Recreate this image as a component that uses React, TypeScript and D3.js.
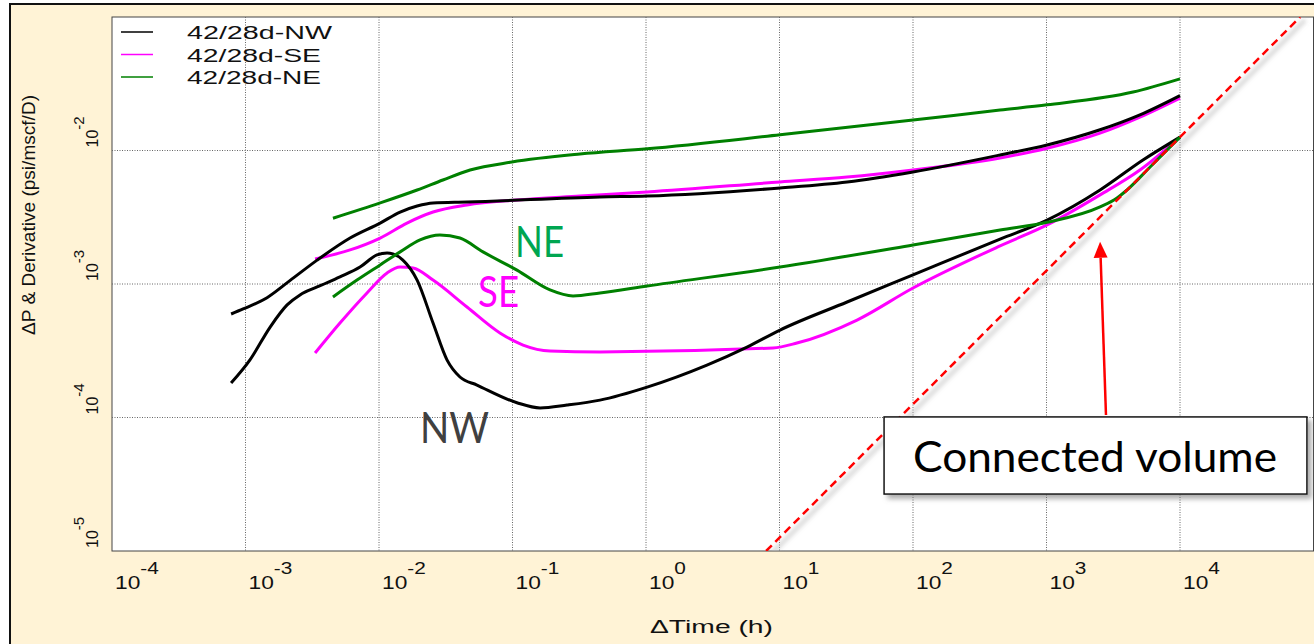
import React, { useRef, useEffect } from 'react';
import * as d3 from 'd3';

// decades shown on the axes
const xExponents = [-4, -3, -2, -1, 0, 1, 2, 3, 4];
const yExponents = [-5, -4, -3, -2];

const legendLabels = ['42/28d-NW', '42/28d-SE', '42/28d-NE'];
const legendColors = ['#000000', '#ff00ff', '#008000'];

// [time (h), value (psi/mscf/D)]
const nwPressure: [number, number][] = [
  [7.8e-4, 5.96e-4], [9.6e-4, 6.5e-4], [1.45e-3, 7.9e-4], [2.15e-3, 1.06e-3], [3.44e-3, 1.51e-3],
  [6.07e-3, 2.21e-3], [1.02e-2, 2.86e-3], [1.44e-2, 3.46e-3], [1.93e-2, 3.84e-3], [2.54e-2, 4.05e-3],
  [4.56e-2, 4.11e-3], [0.452, 4.49e-3], [1.02, 4.56e-3], [10.1, 5.24e-3], [32.1, 5.81e-3],
  [100, 6.9e-3], [449, 9.25e-3], [1010, 1.1e-2], [2520, 1.43e-2], [5010, 1.85e-2], [1e4, 2.58e-2],
];
const nwDerivative: [number, number][] = [
  [7.8e-4, 1.81e-4], [1.08e-3, 2.7e-4], [1.53e-3, 4.76e-4], [2.05e-3, 6.97e-4], [2.56e-3, 8.28e-4],
  [3.44e-3, 9.5e-4], [5.1e-3, 1.13e-3], [7.21e-3, 1.34e-3], [9.66e-3, 1.65e-3], [1.15e-2, 1.71e-3],
  [1.27e-2, 1.68e-3], [1.51e-2, 1.51e-3], [1.93e-2, 1.07e-3], [2.54e-2, 5.1e-4], [3.23e-2, 2.7e-4],
  [4.04e-2, 2.01e-4], [5.42e-2, 1.75e-4], [0.108, 1.29e-4], [0.161, 1.18e-4], [0.256, 1.24e-4],
  [0.452, 1.35e-4], [1.02, 1.69e-4], [2.86, 2.47e-4], [5.71, 3.37e-4],
  [10.1, 4.52e-4], [32.1, 7.33e-4], [100, 1.17e-3], [449, 2.17e-3], [1010, 3.01e-3],
  [2520, 5.06e-3], [5280, 8.49e-3], [1e4, 1.26e-2],
];
const sePressure: [number, number][] = [
  [3.32e-3, 1.54e-3], [6.07e-3, 1.8e-3], [1.02e-2, 2.21e-3], [1.62e-2, 2.86e-3], [2.54e-2, 3.46e-3],
  [4.56e-2, 3.91e-3], [0.108, 4.26e-3], [0.32, 4.56e-3], [1.02, 4.89e-3], [10.1, 5.81e-3],
  [32.1, 6.32e-3], [100, 7.14e-3], [449, 8.79e-3], [1010, 1.04e-2], [2520, 1.35e-2],
  [5010, 1.78e-2], [1e4, 2.47e-2],
];
const seDerivative: [number, number][] = [
  [3.32e-3, 3.04e-4], [5.1e-3, 5.1e-4], [8.13e-3, 8.57e-4], [1.15e-2, 1.21e-3], [1.44e-2, 1.34e-3],
  [1.8e-2, 1.32e-3], [2.54e-2, 1.07e-3], [4.56e-2, 6.73e-4], [8.05e-2, 4.3e-4], [0.12, 3.49e-4],
  [0.191, 3.15e-4], [0.452, 3.1e-4], [8.94, 3.32e-4], [13.5, 3.61e-4], [38.1, 5.37e-4],
  [100, 9.33e-4], [449, 1.93e-3], [1010, 2.77e-3], [2520, 4.65e-3], [5010, 7.14e-3], [1e4, 1.26e-2],
];
const nePressure: [number, number][] = [
  [4.52e-3, 3.11e-3], [1.02e-2, 4.05e-3], [1.93e-2, 5.06e-3], [3.01e-2, 6.01e-3], [4.81e-2, 7.14e-3],
  [9.9e-2, 8.2e-3], [0.32, 9.41e-3], [1.02, 1.03e-2], [10.1, 1.31e-2], [100, 1.69e-2],
  [449, 2.01e-2], [1010, 2.2e-2], [4450, 2.74e-2], [1e4, 3.44e-2],
];
const neDerivative: [number, number][] = [
  [4.52e-3, 8.0e-4], [6.84e-3, 1.07e-3], [1.02e-2, 1.39e-3], [1.44e-2, 1.74e-3], [2.03e-2, 2.14e-3],
  [2.86e-2, 2.33e-3], [4.04e-2, 2.21e-3], [6.01e-2, 1.74e-3], [0.108, 1.27e-3], [0.191, 9.02e-4],
  [0.284, 8.13e-4], [0.452, 8.57e-4], [1.02, 9.66e-4], [10.1, 1.34e-3], [100, 1.96e-3],
  [449, 2.54e-3], [1010, 2.9e-3], [2520, 3.78e-3], [3375, 4.41e-3], [4010, 5.06e-3],
  [6000, 7.56e-3], [1e4, 1.26e-2],
];

// unit-slope line (connected volume)
const unitSlope: [number, number][] = [[7.94, 1e-5], [79400, 0.1]];

// annotations, in data units
const wellLabels = [
  { text: 'NE', t: 0.1045, v: 1.59e-3, color: '#00a651', len: 49 },
  { text: 'SE', t: 0.0552, v: 6.73e-4, color: '#ff00ff', len: 41 },
  { text: 'NW', t: 0.0203, v: 6.44e-5, color: '#404040', len: 69 },
];
const boxCorners: [number, number][] = [[60.7, 1.01e-4], [89300, 2.67e-5]];
const arrowFrom: [number, number] = [2790, 1.045e-4];
const arrowTo: [number, number] = [2520, 2.07e-3];

export default function App() {
  const ref = useRef<SVGSVGElement>(null);

  useEffect(() => {
    const svg = d3.select(ref.current);
    svg.selectAll('*').remove();

    const x = d3.scaleLog().domain([1e-4, 1e5]).range([112, 1313.5]);
    const y = d3.scaleLog().domain([1e-5, 1e-1]).range([551, 17]);

    const defs = svg.append('defs');
    defs.append('clipPath').attr('id', 'plotclip')
      .append('rect').attr('x', 112).attr('y', 17).attr('width', 1201.5).attr('height', 534);
    const sh = defs.append('filter').attr('id', 'shadow')
      .attr('x', '-20%').attr('y', '-20%').attr('width', '140%').attr('height', '160%');
    sh.append('feDropShadow').attr('dx', 4).attr('dy', 4).attr('stdDeviation', 2.5)
      .attr('flood-color', '#777').attr('flood-opacity', 0.6);
    defs.append('filter').attr('id', 'blur')
      .append('feGaussianBlur').attr('stdDeviation', 2);

    svg.append('rect').attr('width', 1314).attr('height', 644).attr('fill', '#fff');
    svg.append('rect').attr('x', 10).attr('y', 4).attr('width', 1330).attr('height', 660)
      .attr('fill', '#fff3d6').attr('stroke', '#111').attr('stroke-width', 2);

    // plot area
    svg.append('rect').attr('x', 112).attr('y', 17).attr('width', 1201.5).attr('height', 534)
      .attr('fill', '#fff').attr('stroke', '#444').attr('stroke-width', 1);

    const grid = svg.append('g').attr('stroke', '#666').attr('stroke-width', 1)
      .attr('stroke-dasharray', '1,1.5');
    grid.selectAll('line.v').data(xExponents.slice(1)).join('line')
      .attr('x1', d => x(10 ** d)).attr('x2', d => x(10 ** d))
      .attr('y1', 17).attr('y2', 551);
    grid.selectAll('line.h').data(yExponents.slice(1)).join('line')
      .attr('x1', 112).attr('x2', 1313.5)
      .attr('y1', d => y(10 ** d)).attr('y2', d => y(10 ** d));

    // x tick labels
    const xl = svg.append('g').attr('font-family', '"Liberation Sans", Arial, sans-serif').attr('fill', '#111');
    xExponents.forEach(e => {
      const g = xl.append('g').attr('transform', `translate(${x(10 ** e) + 3},589) scale(1.3,1)`);
      const t = g.append('text').attr('font-size', 17.5);
      t.append('tspan').text('10');
      t.append('tspan').attr('dy', -15).attr('font-size', 16).text(String(e));
    });

    // y tick labels
    yExponents.forEach(e => {
      const g = xl.append('g').attr('transform', `translate(98,${y(10 ** e) - 3}) rotate(-90)`);
      const t = g.append('text').attr('font-size', 16);
      t.append('tspan').text('10');
      t.append('tspan').attr('dy', -14).attr('font-size', 15).text(String(e));
    });

    // axis titles
    xl.append('text').attr('x', 650).attr('y', 633).attr('font-size', 18)
      .attr('textLength', 123).attr('lengthAdjust', 'spacingAndGlyphs').text('\u0394Time (h)');
    xl.append('text').attr('transform', 'translate(35,335) rotate(-90)').attr('font-size', 18)
      .attr('textLength', 240).attr('lengthAdjust', 'spacingAndGlyphs')
      .text('\u0394P & Derivative (psi/mscf/D)');

    // curves
    const line = d3.line<[number, number]>()
      .x(d => x(d[0])).y(d => y(d[1]))
      .curve(d3.curveMonotoneX);
    const plot = svg.append('g').attr('clip-path', 'url(#plotclip)');
    const series: [[number, number][], string][] = [
      [seDerivative, '#ff00ff'], [sePressure, '#ff00ff'],
      [nwDerivative, '#000000'], [nwPressure, '#000000'],
      [neDerivative, '#008000'], [nePressure, '#008000'],
    ];
    plot.selectAll('path.curve').data(series).join('path')
      .attr('class', 'curve')
      .attr('d', d => line(d[0]))
      .attr('fill', 'none').attr('stroke', d => d[1]).attr('stroke-width', 3)
      .attr('stroke-linejoin', 'round');

    // unit slope line with soft shadow
    const straight = d3.line<[number, number]>().x(d => x(d[0])).y(d => y(d[1]));
    plot.append('path').attr('d', straight(unitSlope)).attr('transform', 'translate(5,3)')
      .attr('stroke', '#bbb').attr('stroke-width', 4).attr('opacity', 0.6)
      .attr('filter', 'url(#blur)').attr('fill', 'none');
    plot.append('path').attr('d', straight(unitSlope))
      .attr('stroke', '#ff0000').attr('stroke-width', 2.5).attr('stroke-dasharray', '8,5')
      .attr('fill', 'none');

    // well labels
    svg.append('g').selectAll('text').data(wellLabels).join('text')
      .attr('x', d => x(d.t)).attr('y', d => y(d.v))
      .attr('font-family', 'Lato, "Open Sans", sans-serif').attr('font-size', 42)
      .attr('fill', d => d.color)
      .attr('textLength', d => d.len).attr('lengthAdjust', 'spacingAndGlyphs')
      .text(d => d.text);

    // arrow
    const ax1 = x(arrowFrom[0]), ay1 = y(arrowFrom[1]);
    const ax2 = x(arrowTo[0]), ay2 = y(arrowTo[1]);
    const ang = Math.atan2(ay2 - ay1, ax2 - ax1);
    const hl = 16, hw = 7;
    const bx = ax2 - hl * Math.cos(ang), by = ay2 - hl * Math.sin(ang);
    svg.append('line').attr('x1', ax1).attr('y1', ay1).attr('x2', bx).attr('y2', by)
      .attr('stroke', '#ff0000').attr('stroke-width', 2.5);
    svg.append('path')
      .attr('d', `M${ax2},${ay2}L${bx + hw * Math.sin(ang)},${by - hw * Math.cos(ang)}L${bx - hw * Math.sin(ang)},${by + hw * Math.cos(ang)}Z`)
      .attr('fill', '#ff0000');

    // annotation box
    const bx0 = x(boxCorners[0][0]), by0 = y(boxCorners[0][1]);
    const bx1 = x(boxCorners[1][0]), by1 = y(boxCorners[1][1]);
    svg.append('rect').attr('x', bx0).attr('y', by0).attr('width', bx1 - bx0).attr('height', by1 - by0)
      .attr('fill', '#fff').attr('stroke', '#111').attr('stroke-width', 1.5)
      .attr('filter', 'url(#shadow)');
    svg.append('text').attr('x', bx0 + 29).attr('y', by0 + 55)
      .attr('font-family', 'Lato, "Open Sans", sans-serif').attr('font-size', 42).attr('fill', '#000')
      .attr('textLength', 364).attr('lengthAdjust', 'spacingAndGlyphs')
      .text('Connected volume');

    // legend
    const lg = svg.append('g');
    legendLabels.forEach((lab, i) => {
      const ly = 32 + i * 22.5;
      lg.append('line').attr('x1', 121).attr('x2', 153).attr('y1', ly).attr('y2', ly)
        .attr('stroke', legendColors[i]).attr('stroke-width', 1.5);
      lg.append('text').attr('x', 187).attr('y', ly + 7)
        .attr('font-family', '"Liberation Sans", Arial, sans-serif').attr('font-size', 18)
        .attr('fill', '#111')
        .attr('textLength', i === 0 ? 145 : 134).attr('lengthAdjust', 'spacingAndGlyphs')
        .text(lab);
    });
  }, []);

  return (
    <div style={{ position: 'absolute', left: 0, top: 0 }}>
      <svg ref={ref} width={1314} height={644} />
    </div>
  );
}
